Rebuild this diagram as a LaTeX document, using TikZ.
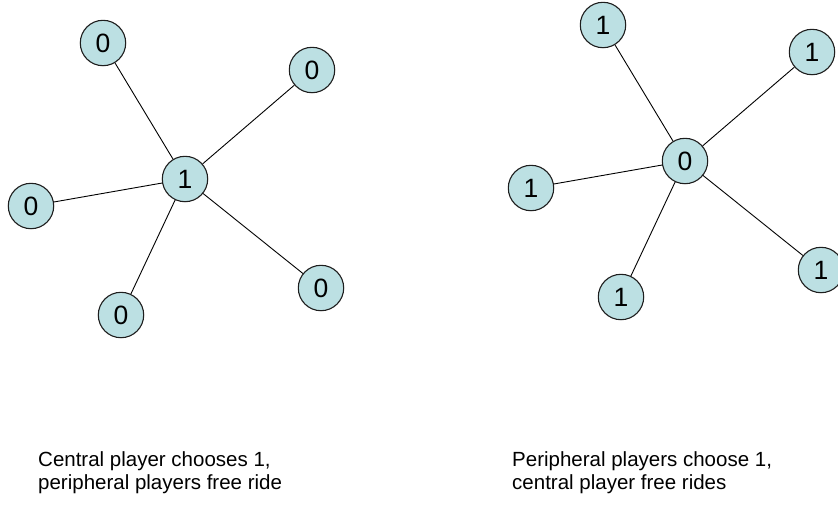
\documentclass[tikz,border=0pt]{standalone}
\usepackage{fontspec}
\setmainfont{Liberation Sans}
\definecolor{nodefill}{RGB}{188,224,227}
\definecolor{nodeline}{RGB}{30,30,30}
\begin{document}
\begin{tikzpicture}[x=1pt,y=-1pt,
  player/.style={circle,draw=nodeline,line width=1.1pt,fill=nodefill,minimum size=45.4pt,inner sep=0pt,font=\fontsize{26.5}{30}\selectfont},
  link/.style={draw=black,line width=0.9pt},
  caption/.style={anchor=base west,align=left,inner sep=0pt,font=\fontsize{20.5}{22.7}\selectfont}]
\useasboundingbox[fill=white] (0,0) rectangle (838,504);
% left star
\node[player] (c1) at (185,179) {1};
\node[player] (a1) at (103,43) {0};
\node[player] (a2) at (312,70) {0};
\node[player] (a3) at (31,206) {0};
\node[player] (a4) at (121,315) {0};
\node[player] (a5) at (321,288) {0};
\foreach \n in {a1,a2,a3,a4,a5} {\path[link] (c1) -- (\n);}
% right star
\node[player] (c2) at (685,161) {0};
\node[player] (b1) at (603,25) {1};
\node[player] (b2) at (812,52) {1};
\node[player] (b3) at (531,188) {1};
\node[player] (b4) at (621,297) {1};
\node[player] (b5) at (821,270) {1};
\foreach \n in {b1,b2,b3,b4,b5} {\path[link] (c2) -- (\n);}
% captions (base anchor sits on the last line)
\node[caption] (t1) at (38,489) {Central player chooses 1,\\peripheral players free ride};
\node[caption] (t2) at (512,489) {Peripheral players choose 1,\\central player free rides};
\end{tikzpicture}
\end{document}
